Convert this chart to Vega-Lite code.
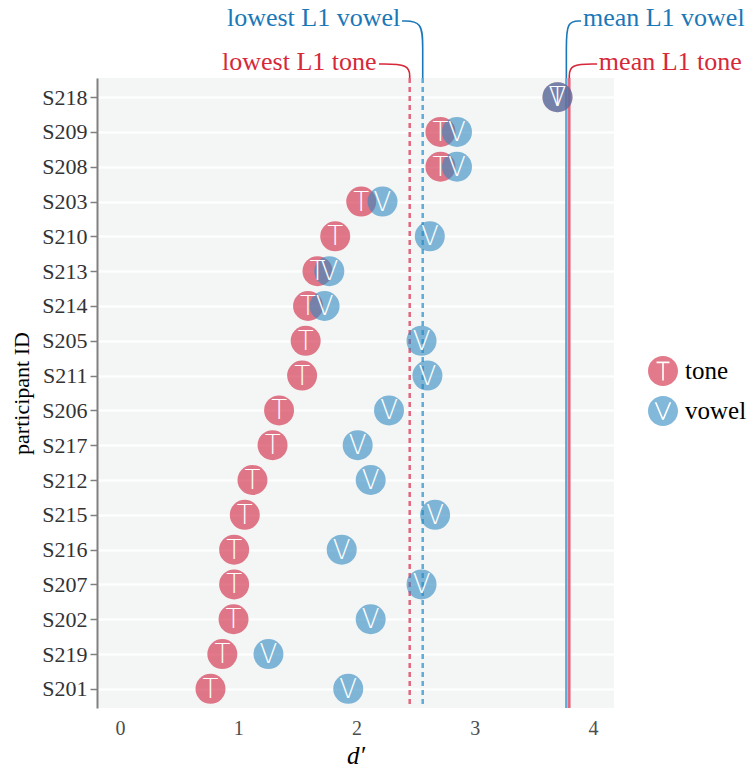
{
  "$schema": "https://vega.github.io/schema/vega-lite/v6.json",
  "width": 517,
  "height": 630,
  "padding": {"left": 10, "top": 4, "right": 0, "bottom": 0},
  "datasets": {
    "scores": [
      {"participant": "S218", "task": "tone", "dprime": 3.70},
      {"participant": "S218", "task": "vowel", "dprime": 3.70},
      {"participant": "S209", "task": "tone", "dprime": 2.71},
      {"participant": "S209", "task": "vowel", "dprime": 2.85},
      {"participant": "S208", "task": "tone", "dprime": 2.71},
      {"participant": "S208", "task": "vowel", "dprime": 2.85},
      {"participant": "S203", "task": "tone", "dprime": 2.04},
      {"participant": "S203", "task": "vowel", "dprime": 2.22},
      {"participant": "S210", "task": "tone", "dprime": 1.82},
      {"participant": "S210", "task": "vowel", "dprime": 2.62},
      {"participant": "S213", "task": "tone", "dprime": 1.67},
      {"participant": "S213", "task": "vowel", "dprime": 1.77},
      {"participant": "S214", "task": "tone", "dprime": 1.59},
      {"participant": "S214", "task": "vowel", "dprime": 1.73},
      {"participant": "S205", "task": "tone", "dprime": 1.57},
      {"participant": "S205", "task": "vowel", "dprime": 2.55},
      {"participant": "S211", "task": "tone", "dprime": 1.54},
      {"participant": "S211", "task": "vowel", "dprime": 2.60},
      {"participant": "S206", "task": "tone", "dprime": 1.345},
      {"participant": "S206", "task": "vowel", "dprime": 2.275},
      {"participant": "S217", "task": "tone", "dprime": 1.29},
      {"participant": "S217", "task": "vowel", "dprime": 2.01},
      {"participant": "S212", "task": "tone", "dprime": 1.12},
      {"participant": "S212", "task": "vowel", "dprime": 2.12},
      {"participant": "S215", "task": "tone", "dprime": 1.055},
      {"participant": "S215", "task": "vowel", "dprime": 2.665},
      {"participant": "S216", "task": "tone", "dprime": 0.965},
      {"participant": "S216", "task": "vowel", "dprime": 1.875},
      {"participant": "S207", "task": "tone", "dprime": 0.965},
      {"participant": "S207", "task": "vowel", "dprime": 2.55},
      {"participant": "S202", "task": "tone", "dprime": 0.96},
      {"participant": "S202", "task": "vowel", "dprime": 2.12},
      {"participant": "S219", "task": "tone", "dprime": 0.865},
      {"participant": "S219", "task": "vowel", "dprime": 1.255},
      {"participant": "S201", "task": "tone", "dprime": 0.765},
      {"participant": "S201", "task": "vowel", "dprime": 1.93}
    ],
    "refs": [
      {"label": "lowest L1 tone", "task": "tone", "stat": "lowest", "dprime": 2.45},
      {"label": "lowest L1 vowel", "task": "vowel", "stat": "lowest", "dprime": 2.56},
      {"label": "mean L1 vowel", "task": "vowel", "stat": "mean", "dprime": 3.775},
      {"label": "mean L1 tone", "task": "tone", "stat": "mean", "dprime": 3.80}
    ],
    "labels": [
      {"label": "lowest L1 vowel", "task": "vowel", "side": "left", "dprime": 2.37, "level": 60},
      {"label": "lowest L1 tone", "task": "tone", "side": "left", "dprime": 2.17, "level": 16},
      {"label": "mean L1 vowel", "task": "vowel", "side": "right", "dprime": 3.915, "level": 60},
      {"label": "mean L1 tone", "task": "tone", "side": "right", "dprime": 4.05, "level": 16}
    ],
    "connectors": [
      {"label": "lowest L1 vowel", "task": "vowel", "i": 0, "dprime": 2.385, "level": 57},
      {"label": "lowest L1 vowel", "task": "vowel", "i": 1, "dprime": 2.56, "level": 57},
      {"label": "lowest L1 vowel", "task": "vowel", "i": 2, "dprime": 2.56, "level": 30},
      {"label": "lowest L1 vowel", "task": "vowel", "i": 3, "dprime": 2.56, "level": 0},
      {"label": "lowest L1 tone", "task": "tone", "i": 0, "dprime": 2.19, "level": 14},
      {"label": "lowest L1 tone", "task": "tone", "i": 1, "dprime": 2.45, "level": 14},
      {"label": "lowest L1 tone", "task": "tone", "i": 2, "dprime": 2.45, "level": 0},
      {"label": "mean L1 vowel", "task": "vowel", "i": 0, "dprime": 3.9, "level": 57},
      {"label": "mean L1 vowel", "task": "vowel", "i": 1, "dprime": 3.775, "level": 57},
      {"label": "mean L1 vowel", "task": "vowel", "i": 2, "dprime": 3.775, "level": 30},
      {"label": "mean L1 vowel", "task": "vowel", "i": 3, "dprime": 3.775, "level": 0},
      {"label": "mean L1 tone", "task": "tone", "i": 0, "dprime": 4.035, "level": 14},
      {"label": "mean L1 tone", "task": "tone", "i": 1, "dprime": 3.80, "level": 14},
      {"label": "mean L1 tone", "task": "tone", "i": 2, "dprime": 3.80, "level": 0}
    ]
  },
  "resolve": {"scale": {"y": "independent"}},
  "layer": [
    {
      "data": {"name": "refs"},
      "mark": {"type": "rule", "strokeWidth": 2.5},
      "encoding": {
        "x": {"field": "dprime", "type": "quantitative", "scale": {"domain": [-0.195, 4.178], "nice": false, "zero": false},
              "axis": {"title": "d′", "titleFontStyle": "italic", "titleFontSize": 25, "titleFontWeight": "normal", "titleColor": "#000000", "titlePadding": 5,
                       "values": [0, 1, 2, 3, 4], "format": "d", "labelFontSize": 20, "labelColor": "#4d4d4d", "domain": false, "ticks": false, "grid": false, "labelPadding": 10}},
        "stroke": {"condition": {"test": "datum.task == 'tone'", "value": "#e2667d"}, "value": "#5eaad8"},
        "strokeDash": {"condition": {"test": "datum.stat == 'lowest'", "value": [5, 4]}, "value": [1, 0]}
      }
    },
    {
      "data": {"name": "scores"},
      "mark": {"type": "point", "filled": true, "shape": "circle", "size": 900, "opacity": 0.6, "strokeWidth": 0},
      "encoding": {
        "x": {"field": "dprime", "type": "quantitative"},
        "y": {"field": "participant", "type": "nominal",
              "sort": ["S218", "S209", "S208", "S203", "S210", "S213", "S214", "S205", "S211", "S206", "S217", "S212", "S215", "S216", "S207", "S202", "S219", "S201"],
              "scale": {"type": "point", "padding": 0.55},
              "axis": {"title": "participant ID", "titleFontSize": 22, "titleFontWeight": "normal", "titleColor": "#000000", "titlePadding": 8,
                       "labelFontSize": 22, "labelColor": "#333333", "labelPadding": 3,
                       "domainColor": "#808080", "domainWidth": 2, "tickColor": "#808080", "tickSize": 7, "tickWidth": 1.5,
                       "grid": true, "gridColor": "#ffffff", "gridWidth": 2}},
        "color": {"field": "task", "type": "nominal",
                  "scale": {"domain": ["tone", "vowel"], "range": ["#d1213d", "#2e88bf"]},
                  "legend": {"title": null, "orient": "none", "legendX": 551, "legendY": 278,
                             "labelFontSize": 25, "labelColor": "#000000", "symbolSize": 900, "rowPadding": 10, "labelOffset": 7, "symbolStrokeWidth": 0, "symbolOpacity": 0.6}}
      }
    },
    {
      "data": {"name": "scores"},
      "transform": [{"filter": "false"}],
      "mark": {"type": "point", "filled": true, "size": 900, "opacity": 0.6, "strokeWidth": 0},
      "encoding": {
        "x": {"field": "dprime", "type": "quantitative"},
        "color": {"field": "task", "type": "nominal",
                  "legend": {"title": null, "orient": "none", "legendX": 551, "legendY": 278,
                             "labelFontSize": 25, "labelColor": "#000000", "symbolSize": 900, "rowPadding": 10, "labelOffset": 7, "symbolStrokeWidth": 0, "symbolOpacity": 0.6}},
        "shape": {"field": "task", "type": "nominal",
                  "scale": {"domain": ["tone", "vowel"],
                            "range": [
                              "M1,0C1,-0.5523,0.5523,-1,0,-1C-0.5523,-1,-1,-0.5523,-1,0C-1,0.5523,-0.5523,1,0,1C0.5523,1,1,0.5523,1,0ZM-0.43,-0.63L0.43,-0.63L0.43,-0.52L0.055,-0.52L0.055,0.63L-0.055,0.63L-0.055,-0.52L-0.43,-0.52Z",
                              "M1,0C1,-0.5523,0.5523,-1,0,-1C-0.5523,-1,-1,-0.5523,-1,0C-1,0.5523,-0.5523,1,0,1C0.5523,1,1,0.5523,1,0ZM-0.55,-0.58L-0.43,-0.58L0,0.45L0.43,-0.58L0.55,-0.58L0.06,0.58L-0.06,0.58Z"
                            ]},
                  "legend": {"title": null, "orient": "none", "legendX": 551, "legendY": 278,
                             "labelFontSize": 25, "labelColor": "#000000", "symbolSize": 900, "rowPadding": 10, "labelOffset": 7, "symbolStrokeWidth": 0, "symbolOpacity": 0.6}}
      }
    },
    {
      "data": {"name": "scores"},
      "mark": {"type": "text", "font": "DejaVu Sans", "fontWeight": 200, "fontSize": 26, "fill": "#ffffff", "baseline": "middle", "align": "center", "dy": 1},
      "encoding": {
        "x": {"field": "dprime", "type": "quantitative"},
        "y": {"field": "participant", "type": "nominal",
              "sort": ["S218", "S209", "S208", "S203", "S210", "S213", "S214", "S205", "S211", "S206", "S217", "S212", "S215", "S216", "S207", "S202", "S219", "S201"],
              "scale": {"type": "point", "padding": 0.55}, "axis": null},
        "text": {"condition": {"test": "datum.task == 'tone'", "value": "T"}, "value": "V"}
      }
    },
    {
      "data": {"name": "connectors"},
      "mark": {"type": "line", "interpolate": "basis", "strokeWidth": 1.6},
      "encoding": {
        "x": {"field": "dprime", "type": "quantitative"},
        "y": {"field": "level", "type": "quantitative", "scale": {"domain": [-630, 0], "nice": false, "zero": false}, "axis": null},
        "detail": {"field": "label"},
        "order": {"field": "i"},
        "stroke": {"condition": {"test": "datum.task == 'tone'", "value": "#d62839"}, "value": "#1a78b8"}
      }
    },
    {
      "data": {"name": "labels"},
      "transform": [{"filter": "datum.side == 'left'"}],
      "mark": {"type": "text", "align": "right", "baseline": "middle", "fontSize": 26},
      "encoding": {
        "x": {"field": "dprime", "type": "quantitative"},
        "y": {"field": "level", "type": "quantitative", "scale": {"domain": [-630, 0], "nice": false, "zero": false}, "axis": null},
        "text": {"field": "label"},
        "fill": {"condition": {"test": "datum.task == 'tone'", "value": "#d62839"}, "value": "#1a78b8"}
      }
    },
    {
      "data": {"name": "labels"},
      "transform": [{"filter": "datum.side == 'right'"}],
      "mark": {"type": "text", "align": "left", "baseline": "middle", "fontSize": 26},
      "encoding": {
        "x": {"field": "dprime", "type": "quantitative"},
        "y": {"field": "level", "type": "quantitative", "scale": {"domain": [-630, 0], "nice": false, "zero": false}, "axis": null},
        "text": {"field": "label"},
        "fill": {"condition": {"test": "datum.task == 'tone'", "value": "#d62839"}, "value": "#1a78b8"}
      }
    }
  ],
  "config": {
    "font": "Liberation Serif",
    "view": {"fill": "#f4f6f6", "stroke": null},
    "axis": {"labelFont": "Liberation Serif", "titleFont": "Liberation Serif"},
    "legend": {"labelFont": "Liberation Serif"}
  }
}
